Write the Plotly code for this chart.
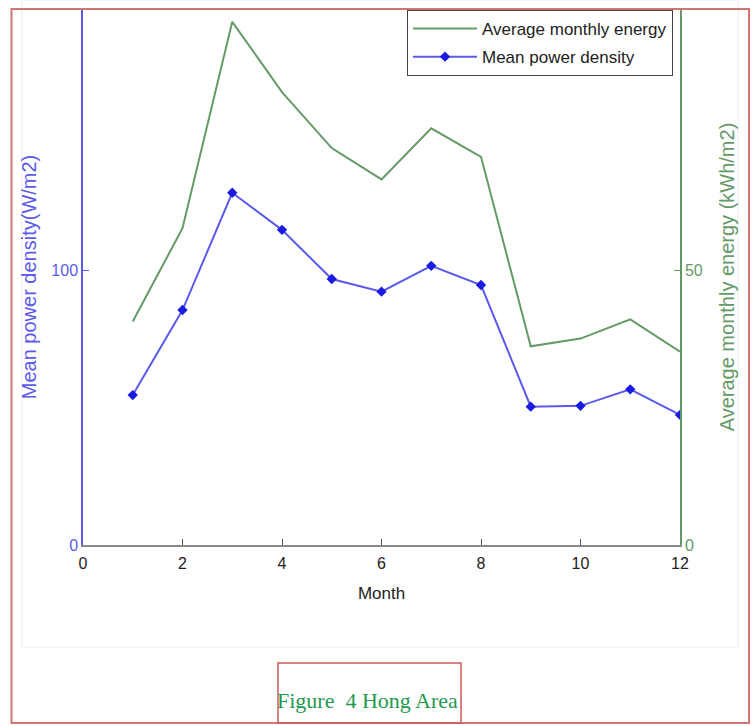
import plotly.graph_objects as go

months = list(range(1, 13))
mean_power_density = [54.6, 85.6, 128.3, 114.8, 96.9, 92.3, 101.7, 94.7, 50.4, 50.7, 56.7, 47.4]
avg_monthly_energy = [40.7, 57.7, 95.3, 82.5, 72.3, 66.6, 75.9, 70.7, 36.2, 37.6, 41.1, 35.2]
x_ticks = [0, 2, 4, 6, 8, 10, 12]
left_ticks = [0, 100]
right_ticks = [0, 50]

W, H = 756, 726
L, R, T, B = 83, 680, 9, 545


def px(x):
    return (x - L) / (R - L)


def py(y):
    return (B - y) / (B - T)


BLUE = "#5a5aec"
GREEN = "#649a66"
FONT = "Liberation Sans, Arial, sans-serif"

fig = go.Figure()
fig.add_trace(go.Scatter(
    x=months, y=avg_monthly_energy, name="Average monthly energy",
    legendgroup="a", mode="lines", line=dict(color=GREEN, width=2), yaxis="y2"))
fig.add_trace(go.Scatter(
    x=months, y=mean_power_density, name="Mean power density",
    legendgroup="b", mode="lines+markers", line=dict(color=BLUE, width=2),
    marker=dict(symbol="diamond", size=8, color="#1a1ae0")))

fig.update_layout(
    width=W, height=H,
    margin=dict(l=L, r=W - R, t=T, b=H - B),
    paper_bgcolor="white", plot_bgcolor="white",
    font=dict(family=FONT, size=16, color="#222"),
    showlegend=True,
    legend=dict(x=px(673), y=py(10), xanchor="right", yanchor="top",
                bgcolor="white", bordercolor="#444", borderwidth=1,
                font=dict(size=17, color="#222"), traceorder="grouped",
                tracegroupgap=3, itemwidth=64),
    xaxis=dict(range=[0, 12], tickvals=x_ticks, ticks="inside", ticklen=6,
               tickcolor="#555", showline=True, linecolor="#888", linewidth=2,
               showgrid=False, zeroline=False, ticklabelstandoff=3,
               tickfont=dict(size=16, color="#222"),
               title=dict(text="Month", font=dict(size=17, color="#222"), standoff=16)),
    yaxis=dict(range=[0, (B - T) / 2.745], tickvals=left_ticks, ticks="inside",
               ticklen=6, tickcolor=BLUE, showline=True, linecolor=BLUE, linewidth=1.5,
               showgrid=False, zeroline=False,
               tickfont=dict(size=16, color=BLUE),
               title=dict(text="Mean power density(W/m2)", font=dict(size=20, color=BLUE),
                          standoff=9)),
    yaxis2=dict(range=[0, (B - T) / 5.49], tickvals=right_ticks, ticks="inside",
                ticklen=6, tickcolor=GREEN, showline=True, linecolor=GREEN, linewidth=1.5,
                showgrid=False, zeroline=False, overlaying="y", side="right",
                tickfont=dict(size=16, color=GREEN),
                title=dict(text="Average monthly energy (kWh/m2)",
                           font=dict(size=20, color=GREEN), standoff=18)),
)

shapes = []
# faint border of embedded image
shapes.append(dict(type="rect", xref="paper", yref="paper",
                   x0=px(22), x1=px(738), y0=py(647), y1=py(0),
                   line=dict(color="#ececec", width=1), layer="below"))
# outer red frame
shapes.append(dict(type="rect", xref="paper", yref="paper",
                   x0=px(11.5), x1=px(749), y0=py(723), y1=py(9),
                   line=dict(color="#d27474", width=2)))
# caption box
shapes.append(dict(type="rect", xref="paper", yref="paper",
                   x0=px(278), x1=px(461), y0=py(723), y1=py(663),
                   line=dict(color="#c85a5a", width=1.5)))
fig.update_layout(shapes=shapes)

fig.add_annotation(text="Figure  4 Hong Area", xref="paper", yref="paper",
                   x=px(367), y=py(700), xanchor="center", yanchor="middle",
                   showarrow=False,
                   font=dict(family="Liberation Serif, DejaVu Serif, serif", size=22,
                             color="#1f9a50"))

fig.write_html("out.html")
